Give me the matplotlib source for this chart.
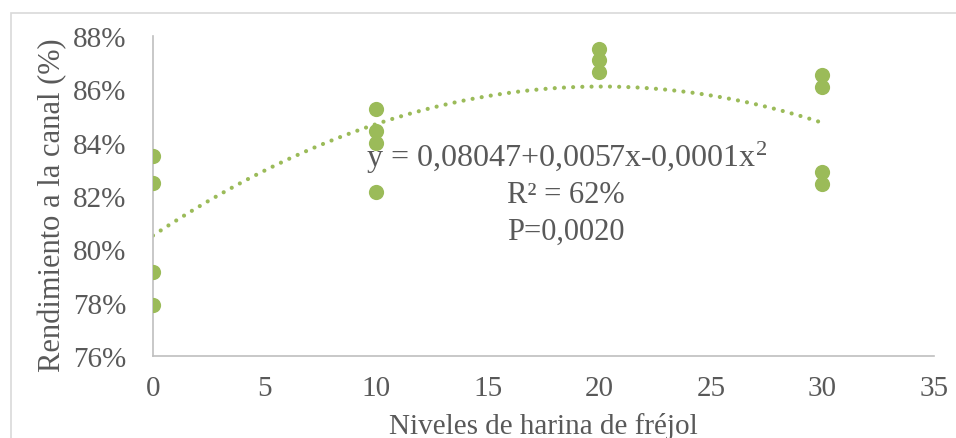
import numpy as np
import matplotlib
matplotlib.use("Agg")
import matplotlib.pyplot as plt
from matplotlib.patches import Rectangle
from matplotlib.ticker import FuncFormatter

niveles = [0, 0, 0, 0, 10, 10, 10, 10, 20, 20, 20, 30, 30, 30, 30]
rendimiento = [83.5, 82.5, 79.15, 77.9, 85.25, 84.45, 84.0, 82.15,
               87.5, 87.1, 86.65, 86.55, 86.1, 82.9, 82.45]
x_ticks = [0, 5, 10, 15, 20, 25, 30, 35]
y_ticks = [76, 78, 80, 82, 84, 86, 88]
eq_lines = ["y = 0,08047+0,0057x-0,0001x$^2$", "R² = 62%", "P=0,0020"]

green = "#9BBB59"
gray = "#595959"
axis_gray = "#BFBFBF"

plt.rcParams['font.family'] = ['Liberation Serif', 'DejaVu Serif']
plt.rcParams['mathtext.fontset'] = 'custom'
plt.rcParams['mathtext.rm'] = 'Liberation Serif'
plt.rcParams['mathtext.it'] = 'Liberation Serif'
plt.rcParams['mathtext.default'] = 'rm'

fig = plt.figure(figsize=(9.56, 4.39), dpi=100)
ax = fig.add_axes([153/956, 1-357/439, (934-153)/956, (357-37)/439])

fig.patches.append(Rectangle((11/956, -0.1), 1.0, 1 - 13.5/439 + 0.1,
                             transform=fig.transFigure, fill=False,
                             edgecolor="#D9D9D9", linewidth=1.2))

ax.scatter(niveles, rendimiento, s=120, color=green, zorder=3, linewidths=0)

coef = np.polyfit(niveles, rendimiento, 2)
xs = np.linspace(0, 30, 200)
ax.plot(xs, np.polyval(coef, xs), linestyle=(0, (0.01, 2.2)), color=green,
        linewidth=3.0, dash_capstyle='round', zorder=2)

ax.set_xlim(0, 35)
ax.set_ylim(76, 88)
ax.set_xticks(x_ticks)
ax.set_yticks(y_ticks)
ax.yaxis.set_major_formatter(FuncFormatter(lambda v, p: f"{v:.0f}%"))
ax.tick_params(length=0, labelsize=21, labelcolor=gray)
ax.tick_params(axis='y', pad=19)
ax.tick_params(axis='x', pad=14)
for s in ["top", "right"]:
    ax.spines[s].set_visible(False)
for s in ["left", "bottom"]:
    ax.spines[s].set_color(axis_gray)
    ax.spines[s].set_linewidth(1.2)

fig.text(543/956, 1-427/439, "Niveles de harina de fréjol", ha="center",
         va="center", fontsize=21, color=gray)
fig.text(53/956, 1-205/439, "Rendimiento a la canal (%)", ha="center",
         va="center", rotation=90, fontsize=22, color=gray)

fig.text(567/956, 1-158/439, eq_lines[0], ha="center", va="center",
         fontsize=23, color=gray)
fig.text(507/956, 1-196/439, eq_lines[1], ha="left", va="center",
         fontsize=22, color=gray)
fig.text(507/956, 1-232/439, eq_lines[2], ha="left", va="center",
         fontsize=22, color=gray)

fig.savefig("out.png", dpi=100)
